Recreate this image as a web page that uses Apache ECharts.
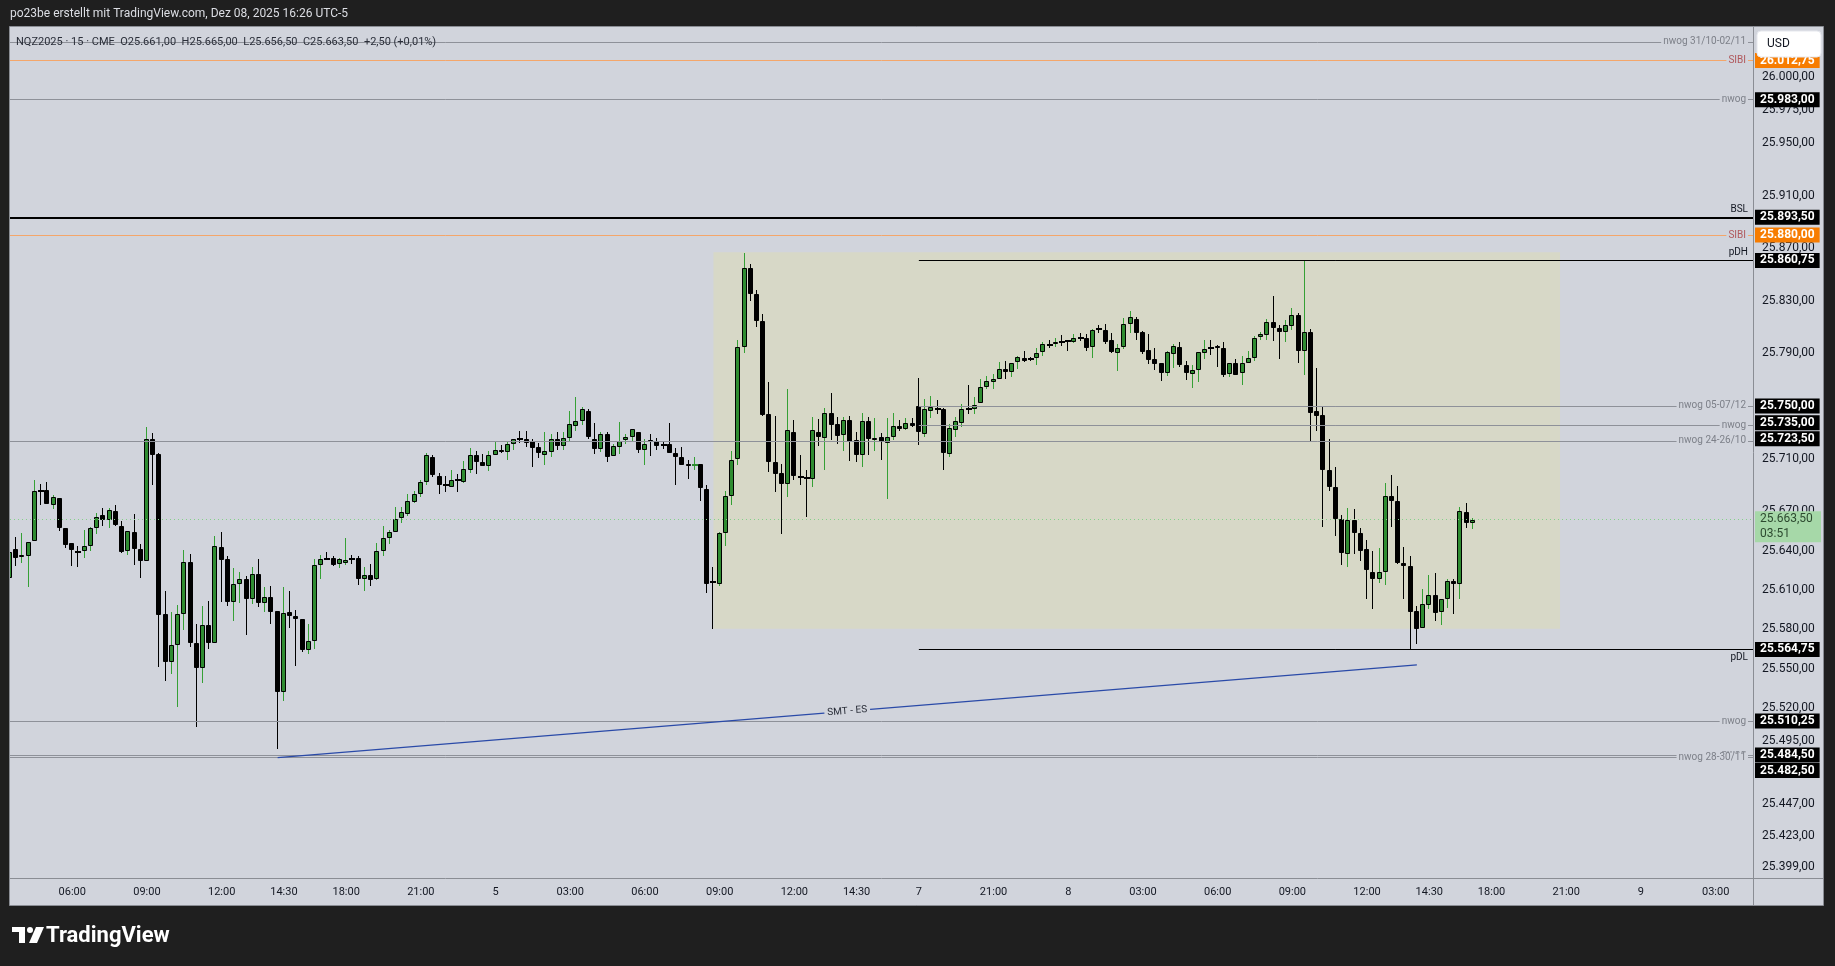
<!DOCTYPE html>
<html><head><meta charset="utf-8">
<script src="https://cdn.jsdelivr.net/npm/echarts@6/dist/echarts.min.js"></script>
<style>html,body{margin:0;padding:0;background:#1f1f1f}#c{width:1835px;height:966px}</style>
</head><body><div id="c"></div>
<script>
// ---------- DATA (15-min NQZ2025 bars) ----------
const opens=[
25618.75,25641,25634.75,25635.5,25647,25685.25,25685.75,25675,25679.75,25657.5,
25645.5,25639,25640,25643.25,25657,25666.75,25663,25669.75,25658.5,25640,
25654.5,25641.5,25632.25,25725.25,25713.5,25591.5,25555.5,25568,25591.5,25631,
25570,25551,25583,25570,25642.5,25633.25,25601,25614.25,25618,25603.5,
25622,25600.25,25604.5,25593.75,25532.5,25593,25590,25588,25564,25571,
25628.75,25633.75,25634,25629.5,25630.25,25633.25,25634,25618,25621.5,25618.5,
25639.5,25649.25,25654.5,25664.5,25667.5,25676.75,25682.75,25692.5,25711.5,25696.5,
25690.25,25688,25694,25692.5,25701,25713,25707,25704,25713,25716.5,
25714.75,25720.75,25725.25,25725.25,25723,25718.5,25713,25714.75,25724.5,25719.25,
25726,25734.5,25738.25,25746.5,25725.25,25717.5,25729,25712,25718.5,25723.75,
25726.5,25730.5,25716.75,25723.75,25723,25720,25720.75,25714,25711.5,25705.5,
25704,25705.5,25686.5,25615.75,25614.25,25653,25681.25,25710,25795,25855,
25835,25815,25743.75,25707,25698.75,25690.75,25730.5,25696.25,25695.5,25694.5,
25730.5,25726,25745,25736,25728,25739,25723.75,25713,25738.25,25724.25,
25726.75,25722,25726.5,25734.5,25732.75,25736.75,25750,25729,25746.5,25747.5,
25747.5,25713.5,25732,25736.75,25748,25747.5,25752,25764.5,25768.5,25770.25,
25777.75,25776,25783.5,25786.25,25785.5,25786.25,25790.75,25796.75,25797.5,25799,
25799.5,25799,25801.5,25801.5,25795,25808.25,25807.75,25800,25790,25795,
25812,25816.5,25806,25792.25,25785.75,25783,25775.25,25789.25,25794.75,25781.5,
25774.5,25777.5,25790,25793.75,25795.25,25793.75,25774.5,25783,25775.25,25782.5,
25786.25,25802.25,25803.75,25813.5,25809,25806,25810.5,25819.5,25791.5,25806,
25746,25742.75,25701,25688,25663.75,25637.75,25663,25653,25641,25624,
25618,25623.5,25681.25,25678,25630.5,25628,25593.75,25580.75,25598.25,25606.5,
25593,25603.5,25616.5,25614.25,25669,25661];
const highs=[
25640.5,25650.5,25653,25646.75,25693.5,25691,25692,25682,25679.75,25657.5,
25645.5,25643.5,25655.5,25658,25668.25,25672,25672,25675,25662.25,25655.25,
25667.5,25644.75,25733.75,25729.5,25714,25609.25,25593.25,25598.5,25640.5,25637.25,
25584.25,25597.75,25601.5,25651,25654,25635.75,25626.75,25623.5,25621,25627.75,
25633.5,25612.25,25613,25593.75,25612.25,25609.25,25594.75,25588,25584,25633.25,
25636.25,25638.75,25635.75,25634.25,25649.5,25636.5,25635.75,25627.75,25630,25645.5,
25658.5,25655.5,25673,25673,25683.25,25685.25,25693.5,25714,25712.5,25698.75,
25696.5,25701.25,25698.25,25708,25717.75,25715.75,25713.5,25715.75,25722.25,25720,
25722.25,25725.25,25731,25731,25725.25,25721.5,25730,25728.5,25730,25730,
25746,25756.5,25749,25748,25736.75,25730,25730,25720.75,25737.5,25728.5,
25732.25,25730.5,25725,25728.5,25726,25723,25736.75,25718.25,25718.5,25709.25,
25711,25705.5,25689.5,25627.25,25653.75,25685,25716,25800,25866,25858,
25838,25820,25768,25742.25,25705.75,25763,25739.25,25712.5,25701.25,25741.5,
25739.75,25748.5,25759.75,25741.5,25741.5,25742.25,25730,25744.5,25741.5,25740.75,
25729.5,25740.75,25744.5,25739.25,25740.75,25740.75,25771.25,25755.25,25757.5,25754.5,
25748.5,25736,25741.5,25751.5,25766,25756.75,25770.5,25772.75,25774.25,25783.5,
25784,25783,25787.75,25791.75,25787,25794,25798.5,25800,25801.5,25804,
25800,25804.75,25805.5,25804.75,25808.5,25811.5,25812.25,25805.5,25797,25817,
25822.25,25817.5,25806.75,25804.75,25794,25783,25791.5,25797,25798.5,25784.5,
25781.5,25790.75,25800,25800,25796.75,25798.5,25783,25785.5,25787.75,25791.75,
25803.25,25806,25816,25833.5,25811.5,25815.25,25824.5,25820.5,25860.75,25808.25,
25778.75,25750,25724.75,25703.5,25666.75,25672.25,25671.5,25657,25648,25639.5,
25642,25691.25,25697.5,25688.75,25642.5,25635.75,25597.75,25611,25621.5,25623,
25603.5,25618,25618,25673,25676,25665];
const lows=[
25617.5,25628.5,25630.25,25612.5,25647,25675,25675.5,25671.75,25655,25642.25,
25628.5,25627.75,25634.5,25640,25652.5,25659,25657,25659,25638.5,25636.75,
25629.25,25619.25,25632.25,25690,25551.5,25541,25546,25521.25,25579.5,25566.75,
25506,25539.5,25565.25,25570,25600.75,25598,25586.5,25600.25,25576,25599.5,
25597.25,25593.5,25584.25,25489.25,25525.75,25581.25,25552.5,25563,25561.5,25565.25,
25618.5,25632.75,25628.25,25626.5,25628.75,25630,25613.75,25609.5,25612.75,25617.75,
25636,25644.75,25653.75,25661.25,25666,25676,25680.5,25690,25695.75,25683.25,
25684.75,25688,25684.75,25691.5,25699.25,25698.5,25704,25700.75,25713,25714,
25709,25716.75,25722,25719,25703.75,25710.5,25705.25,25711.5,25716.75,25716.75,
25722.75,25731.25,25735.75,25725,25713.75,25715.25,25707.5,25712,25713.75,25720.75,
25722.25,25714.5,25705.25,25712,25716.75,25717.5,25714,25690,25705.25,25694.5,
25701.5,25678,25608,25580.5,25612.75,25643.75,25674.5,25705,25790,25830,
25810,25742,25700,25684.75,25652.75,25680.5,25694,25690,25665.75,25688.5,
25719.75,25701.25,25724,25721.25,25715.75,25708,25707.5,25703.5,25713,25715.75,
25708.75,25679.25,25724.25,25731,25732,25734.25,25720.25,25726.5,25741,25744,
25701.25,25711,25726.5,25734.25,25743.75,25743.75,25752,25763,25763,25770.25,
25770.75,25772.25,25778.25,25783.5,25784.5,25781.5,25788.25,25794,25794.75,25795.5,
25791.75,25798,25799.5,25791.75,25786.75,25805.75,25797,25790.5,25776.75,25793.25,
25805.75,25800.5,25789.5,25782,25777.5,25769.25,25773,25779,25779.75,25770,
25764,25768.5,25786,25789,25779.75,25772.25,25772.25,25773.75,25766,25782.5,
25784.5,25800,25800.5,25799.5,25786,25799,25807.75,25783,25773.25,25723,
25731,25658,25685,25651.25,25628.75,25627.75,25637.75,25632.25,25603.25,25595.25,
25615.5,25613.5,25658,25629.5,25603.25,25564.75,25569.25,25580.75,25595.25,25586.75,
25583.5,25596,25591.5,25603.5,25657.25,25656.5];
const closes=[
25639,25634.5,25636.5,25646.25,25685,25685.25,25675.5,25680.5,25657.5,25644.5,
25640.5,25639,25643.25,25657,25665.25,25663,25670.5,25659.75,25639,25655.25,
25641.5,25632.25,25725.25,25712.5,25591.25,25555.5,25568,25591.5,25631,25570,
25551,25583,25570,25643.25,25633,25601,25614.25,25618,25603.5,25622,
25600.25,25604.5,25593.5,25532.5,25592.25,25590,25588,25564,25571,25628.75,
25633.25,25633.75,25629.25,25633.25,25632.5,25633.25,25618.5,25621.75,25617.75,25640,
25649.25,25654.5,25663.75,25669,25677.5,25682.75,25692.5,25712.5,25697.25,25690.25,
25688.75,25694,25694,25701.75,25713,25707.5,25704,25713,25716.25,25714.75,
25720.75,25724.5,25725.25,25721.5,25718.25,25714,25715.5,25725.25,25719.25,25726,
25736,25738.25,25747.5,25726.5,25717.5,25729,25711.5,25719.25,25723,25726.75,
25732.25,25716.75,25720.75,25722.25,25719.25,25720,25714,25711.5,25705.25,25704,
25704.75,25687.75,25614.75,25615.75,25653,25681.25,25709.25,25795,25855,25835,
25815,25743.5,25707.5,25698.5,25690.75,25731.5,25697,25696.25,25695.5,25731.5,
25726.25,25745,25735.75,25727.25,25739,25722.75,25713,25738.25,25725,25726,
25722.75,25726.75,25734.5,25732.75,25736.75,25735,25730.5,25747.5,25749,25747.5,
25714.5,25733,25738.25,25748,25747,25750.5,25764.5,25768.75,25770.25,25777.75,
25776,25783,25787,25784.5,25785.5,25790,25797.5,25796.75,25799,25799,
25799.5,25801.5,25801.5,25794.25,25807.5,25808.25,25799,25791.25,25794,25812,
25817.5,25805.75,25791.25,25785.25,25782,25775.25,25790.75,25795.25,25781.5,25775.25,
25777,25790.75,25793,25793.75,25794,25773.75,25783,25773.75,25783,25786.25,
25801.5,25804.5,25813.5,25809,25806,25811.25,25819.5,25792,25806,25744.75,
25742,25701,25688,25664,25638.5,25663,25653,25640,25625,25618,
25623.5,25681.25,25678,25630.25,25628,25593,25580,25599,25606,25592.25,
25603.5,25616.5,25614.25,25669.75,25661,25663.5];

// time-axis tick labels (category -> text)
const tickTimes=['12-04 06:00','12-04 09:00','12-04 12:00','12-04 14:30','12-04 18:00','12-04 21:00','12-05 00:00','12-05 03:00','12-05 06:00','12-05 09:00','12-05 12:00','12-05 14:30','12-07 18:00','12-07 21:00','12-08 00:00','12-08 03:00','12-08 06:00','12-08 09:00','12-08 12:00','12-08 14:30','12-08 18:00','12-08 21:00','12-09 00:00','12-09 03:00'];
const tickTexts=['06:00','09:00','12:00','14:30','18:00','21:00','5','03:00','06:00','09:00','12:00','14:30','7','21:00','8','03:00','06:00','09:00','12:00','14:30','18:00','21:00','9','03:00'];
// price-axis tick labels
const priceTicks=[26000,25975,25950,25910,25870,25830,25790,25750,25710,25670,25640,25610,25580,25550,25520,25495,25447,25423,25399];

// horizontal levels
const levelNames=['nwog 31/10-02/11','SIBI','nwog','BSL','SIBI','pDH','nwog 05-07/12','nwog','nwog 24-26/10','pDL','nwog','nwog','nwog 28-30/11'];
const levelKinds=['nwog','sibi','nwog','bsl','sibi','pdh','nwog','nwog','nwog','pdl','nwog','nwog','nwog'];
const levelValues=[26027,26012.75,25983,25893.5,25880,25860.75,25750,25735,25723.5,25564.75,25510.25,25484.5,25482.5];
const levelStarts=[null,null,null,null,null,'12-07 18:00','12-07 18:00','12-07 18:00',null,'12-07 18:00',null,null,null];
const levelTag=[false,true,true,true,true,true,true,true,true,true,true,true,true];

// shaded range box (time from/to, price top/bottom)
const boxTimes=['12-05 08:45','12-08 20:45'];
const boxPrices=[25867,25580.5];
// SMT divergence line
const smtTimes=['12-04 14:15','12-08 14:00'];
const smtPrices=[25482.5,25553];
const countdown='03:51';

// ---------- build categories (15-min bars, CME session, Thu 03:30 onward) ----------
function pad(n){return (n<10?'0':'')+n;}
function buildTimes(n){
  const out=[];let t=Date.UTC(2025,11,4,3,30);
  while(out.length<n){
    const d=new Date(t),dow=d.getUTCDay(),h=d.getUTCHours();
    const skip=(h===17)||(dow===5&&h>=17)||dow===6||(dow===0&&h<18);
    if(!skip) out.push(pad(d.getUTCMonth()+1)+'-'+pad(d.getUTCDate())+' '+pad(h)+':'+pad(d.getUTCMinutes()));
    t+=15*60000;
  }
  return out;
}
const categories=buildTimes(281);
const lastCat=categories[categories.length-1];
const tickMap={};tickTimes.forEach((t,i)=>tickMap[t]=tickTexts[i]);

function de(v){const s=v.toFixed(2);const p=s.split('.');return p[0].replace(/\B(?=(\d{3})+(?!\d))/g,'.')+','+p[1];}

const candleData=opens.map((o,i)=>[i,o,closes[i],lows[i],highs[i]]);
const lastPrice=closes[closes.length-1];

const BG='#d1d4dc', GREEN='#2f8c31', WICKG='#35a035';
const FONT='Roboto, "Noto Sans", sans-serif';

function renderCandle(params,api){
  const i=api.value(0),o=api.value(1),c=api.value(2),l=api.value(3),h=api.value(4);
  const up=c>o;
  const pO=api.coord([i,o]),pC=api.coord([i,c]),pH=api.coord([i,h]),pL=api.coord([i,l]);
  const R=Math.round(pO[0]);
  const top=Math.round(Math.min(pO[1],pC[1])),bot=Math.round(Math.max(pO[1],pC[1]));
  const ch=[{type:'line',shape:{x1:R-0.5,y1:Math.round(pH[1]),x2:R-0.5,y2:Math.round(pL[1])},style:{stroke:up?WICKG:'#000',lineWidth:1}}];
  if(bot-top<2){
    ch.push({type:'rect',shape:{x:R-3,y:top-1,width:6,height:2},style:{fill:up?GREEN:'#000',stroke:null}});
  }else{
    ch.push({type:'rect',shape:{x:R-2.5,y:top+0.5,width:4,height:bot-top-1},style:{fill:up?GREEN:'#000',stroke:'#000',lineWidth:1}});
  }
  return {type:'group',children:ch};
}

// markLines for levels
const levelLines=[],tagLines=[];
levelValues.forEach((v,i)=>{
  const k=levelKinds[i];
  let ls,lab;
  if(k==='nwog'){ls={color:'#8e9199',width:1,type:'solid'};lab={position:'insideEnd',color:'#7d8089',backgroundColor:BG,padding:[0,2]};}
  else if(k==='sibi'){ls={color:'#f4a66a',width:1,type:'solid'};lab={position:'insideEnd',color:'#b0585c',backgroundColor:BG,padding:[0,2]};}
  else if(k==='bsl'){ls={color:'#000',width:2,type:'solid'};lab={position:'insideEndTop',color:'#131722',distance:[5,3]};}
  else if(k==='pdh'){ls={color:'#000',width:1,type:'solid'};lab={position:'insideEndTop',color:'#131722',distance:[5,3]};}
  else {ls={color:'#000',width:1,type:'solid'};lab={position:'insideEndBottom',color:'#131722',distance:[5,3]};}
  lab=Object.assign({show:true,formatter:levelNames[i],fontSize:10,fontFamily:FONT},lab);
  if(levelStarts[i]) levelLines.push([{coord:[levelStarts[i],v],lineStyle:ls,label:lab},{coord:[lastCat,v]}]);
  else levelLines.push({yAxis:v,lineStyle:ls,label:lab});
  if(levelTag[i]){
    const orange=(k==='sibi');
    let off=[0,0];
    if(v===25735) off=[0,-3]; if(v===25723.5) off=[0,-2]; if(v===25482.5) off=[0,13];
    tagLines.push({yAxis:v,lineStyle:{width:0,color:'rgba(0,0,0,0)'},label:{show:true,position:'end',distance:2,formatter:de(v),color:'#fff',fontWeight:'bold',fontSize:12,fontFamily:FONT,backgroundColor:orange?'#f77c00':'#000',padding:[2,5,1,5],offset:off}});
  }
});
// last price
levelLines.push({yAxis:lastPrice,lineStyle:{color:'#86cf8a',width:1,type:[1,3]},label:{show:false}});
tagLines.push({yAxis:lastPrice,lineStyle:{width:0,color:'rgba(0,0,0,0)'},label:{show:true,position:'end',distance:2,formatter:de(lastPrice)+'\n'+countdown,color:'#2d4a30',fontSize:12,lineHeight:15,fontFamily:FONT,backgroundColor:'#a6d8a8',padding:[1,5,0,5],width:56,offset:[0,7]}});
// SMT line
levelLines.push([{coord:[smtTimes[0],smtPrices[0]],lineStyle:{color:'#2a4aa8',width:1.3,type:'solid'},label:{show:true,position:'insideMiddle',formatter:'SMT - ES',color:'#2a2e39',fontSize:10,fontFamily:FONT,backgroundColor:BG,padding:[0,3]}},{coord:[smtTimes[1],smtPrices[1]]}]);

const chart=echarts.init(document.getElementById('c'),null,{renderer:'canvas'});
chart.setOption({
  animation:false,
  backgroundColor:'#1f1f1f',
  grid:{left:10,top:27,width:1743,height:851,containLabel:false},
  xAxis:{type:'category',data:categories,boundaryGap:false,
    axisLine:{show:true,lineStyle:{color:'#8a8d94',width:1}},axisTick:{show:false},splitLine:{show:false},
    axisLabel:{interval:(idx,val)=>tickMap[val]!==undefined,formatter:(val)=>tickMap[val]||'',color:'#131722',fontSize:11,fontFamily:FONT,margin:9}},
  yAxis:{type:'value',position:'right',min:25390.9,max:26038.3,scale:true,
    axisLine:{show:true,lineStyle:{color:'#8a8d94',width:1}},axisTick:{show:false},splitLine:{show:false},
    axisLabel:{customValues:priceTicks,formatter:(v)=>de(v),color:'#131722',fontSize:12,fontFamily:FONT,margin:9}},
  graphic:{elements:[
    {type:'rect',z:-10,shape:{x:9.5,y:26.5,width:1814,height:879},style:{fill:BG,stroke:'#8a8d94',lineWidth:1}},
    {type:'line',z:-5,shape:{x1:1753,y1:878.5,x2:1823,y2:878.5},style:{stroke:'#8a8d94',lineWidth:1}},
    {type:'line',z:-5,shape:{x1:1753.5,y1:878,x2:1753.5,y2:905},style:{stroke:'#8a8d94',lineWidth:1}},
    {type:'text',z:10,x:10,y:14,style:{text:'po23be erstellt mit TradingView.com, Dez 08, 2025 16:26 UTC-5',fill:'#dcdee4',font:'12px '+FONT,verticalAlign:'middle'}},
    {type:'text',z:10,x:16,y:42,style:{text:'NQZ2025 · 15 · CME  O25.661,00  H25.665,00  L25.656,50  C25.663,50  +2,50 (+0,01%)',fill:'#2a2e39',font:'11px '+FONT,verticalAlign:'middle'}},
    {type:'rect',z:100,shape:{x:1757,y:31,width:64,height:26,r:4},style:{fill:'#ffffff',stroke:'#e6e8ee',lineWidth:1}},
    {type:'text',z:101,x:1767,y:44,style:{text:'USD',fill:'#131722',font:'12px '+FONT,verticalAlign:'middle'}},
    {type:'rect',z:10,shape:{x:12,y:927,width:13,height:5},style:{fill:'#ffffff'}},
    {type:'rect',z:10,shape:{x:19,y:927,width:6,height:16},style:{fill:'#ffffff'}},
    {type:'circle',z:10,shape:{cx:30,cy:930,r:3},style:{fill:'#ffffff'}},
    {type:'polygon',z:10,shape:{points:[[36,927],[44,927],[37,943],[29,943]]},style:{fill:'#ffffff'}},
    {type:'text',z:10,x:46,y:936,style:{text:'TradingView',fill:'#ffffff',font:'bold 22px '+FONT,verticalAlign:'middle'}}
  ]},
  series:[
    {type:'line',name:'box',data:[],z:1,silent:true,
      markArea:{silent:true,itemStyle:{color:'#d7d8c7'},data:[[{coord:[boxTimes[0],boxPrices[0]]},{coord:[boxTimes[1],boxPrices[1]]}]]}},
    {type:'line',name:'levels',data:[],z:2,silent:true,
      markLine:{silent:true,symbol:['none','none'],animation:false,data:levelLines}},
    {type:'custom',name:'NQ',z:3,clip:true,renderItem:renderCandle,data:candleData,encode:{x:0,y:[1,2,3,4]}},
    {type:'line',name:'tags',data:[],z:6,silent:true,
      markLine:{silent:true,symbol:['none','none'],animation:false,data:tagLines}}
  ]
});
</script></body></html>
